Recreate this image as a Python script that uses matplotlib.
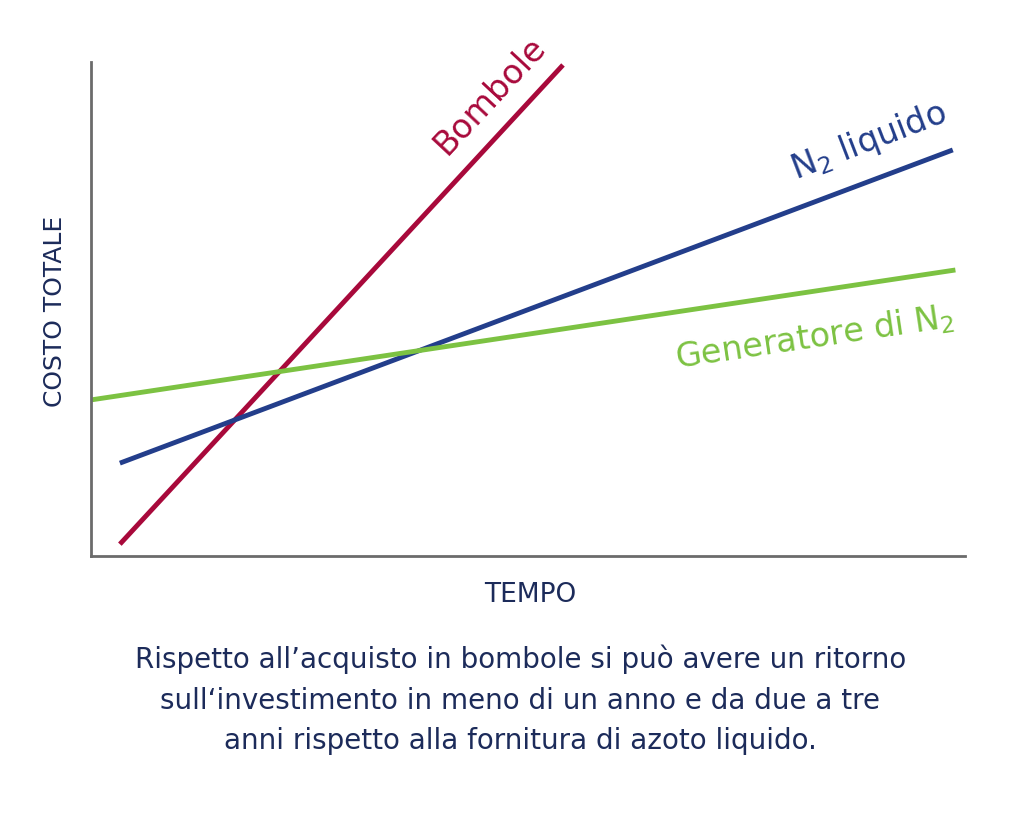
import matplotlib.pyplot as plt

# -------------------------------
# DATA (arbitrary units: time vs total cost)
# -------------------------------
bombole_x = [0.33, 5.40]
bombole_y = [0.24, 9.94]
liquido_x = [0.33, 9.86]
liquido_y = [1.88, 8.22]
generatore_x = [0.0, 9.89]
generatore_y = [3.16, 5.79]

label_bombole = "Bombole"
label_liquido = "N$_2$ liquido"
label_generatore = "Generatore di N$_2$"
caption = ("Rispetto all\u2019acquisto in bombole si può avere un ritorno\n"
           "sull\u2018investimento in meno di un anno e da due a tre\n"
           "anni rispetto alla fornitura di azoto liquido.")

# -------------------------------
# STYLE
# -------------------------------
plt.rcParams['font.family'] = ['DejaVu Sans']
plt.rcParams['mathtext.default'] = 'regular'

red = '#a8093b'
blue = '#233e8b'
green = '#7cc242'
navy = '#1c2b5a'
grey = '#6b6b6b'

fig = plt.figure(figsize=(10.24, 8.19), dpi=100)
ax = fig.add_axes([0.0889, 0.3211, 0.8535, 0.6032])

ax.plot(bombole_x, bombole_y, color=red, linewidth=3.5, solid_capstyle='butt')
ax.plot(liquido_x, liquido_y, color=blue, linewidth=3.5, solid_capstyle='butt')
ax.plot(generatore_x, generatore_y, color=green, linewidth=3.5, solid_capstyle='butt')

ax.set_xlim(0, 10)
ax.set_ylim(0, 10)
ax.set_xticks([])
ax.set_yticks([])
for side in ['top', 'right']:
    ax.spines[side].set_visible(False)
for side in ['left', 'bottom']:
    ax.spines[side].set_color(grey)
    ax.spines[side].set_linewidth(2)

# line labels
ax.text(4.57, 9.33, label_bombole, color=red, fontsize=24, rotation=47,
        ha='center', va='center')
ax.text(8.9, 8.4, label_liquido, color=blue, fontsize=24, rotation=21,
        ha='center', va='center')
ax.text(8.28, 4.43, label_generatore, color=green, fontsize=24, rotation=8.5,
        ha='center', va='center')

# axis titles
fig.text(0.054, 0.62, "COSTO TOTALE", color=navy, fontsize=18, rotation=90,
         ha='center', va='center')
fig.text(0.518, 0.273, "TEMPO", color=navy, fontsize=19, ha='center', va='center')

# caption
fig.text(0.508, 0.1453, caption, color=navy, fontsize=20, ha='center', va='center',
         linespacing=1.56)

fig.savefig('out.png', dpi=100)
